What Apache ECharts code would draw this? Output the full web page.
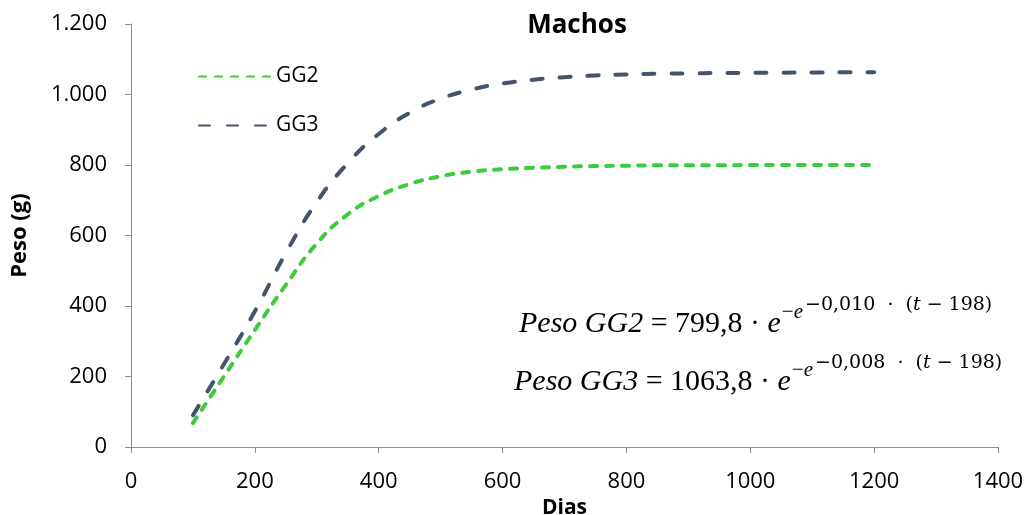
<!DOCTYPE html>
<html>
<head>
<meta charset="utf-8">
<script src="https://cdn.jsdelivr.net/npm/echarts@6/dist/echarts.min.js"></script>
<style>
html,body{margin:0;padding:0;background:#fff;overflow:hidden;}
#chart{width:1027px;height:515px;}
</style>
</head>
<body>
<div id="chart"></div>
<script>
// ---- data ----
const days = [100,150,200,250,300,350,400,450,500,550,600,650,700,750,800,850,900,950,1000,1050,1100,1150,1200];
const gg2 = [68,200,332,460,577,660,712,746,768,781,788,792,795,797,798,799,799,799.5,799.7,799.8,799.8,799.8,799.8];
const gg3 = [90,235,385,550,695,805,888,948,988,1014,1031,1042,1049,1054,1057,1059,1060,1061,1061.5,1062,1062.5,1063,1063];
const seriesNames = ['GG2','GG3'];
const titleText = 'Machos';
const xName = 'Dias';
const yName = 'Peso (g)';
const eq1 = {main:['Peso GG2', ' = 799,8 · ', 'e'], sup2:['−0,010  ·  (', 't', ' − 198)']};
const eq2 = {main:['Peso GG3', ' = 1063,8 · ', 'e'], sup2:['−0,008  ·  (', 't', ' − 198)']};

const chart = echarts.init(document.getElementById('chart'), null, {width:1027, height:515});
const sans = 'Open Sans';
const serif = 'Liberation Serif';
const serif2 = 'DejaVu Serif';

const cv = document.createElement('canvas').getContext('2d');
function tw(t, font){ cv.font = font; return cv.measureText(t).width; }

const mainSize = 30, sup1Size = 21, sup2Size = 19;
function eqGraphics(eq, x0, yMid){
  const fI = 'italic ' + mainSize + 'px "' + serif + '"';
  const fN = mainSize + 'px "' + serif + '"';
  const w = tw(eq.main[0], fI) + tw(eq.main[1], fN) + tw(eq.main[2], fI);
  const x1 = x0 + w + 1;
  const s1w = tw('−', sup1Size + 'px "' + serif + '"') + tw('e', 'italic ' + sup1Size + 'px "' + serif + '"');
  const x2 = x1 + s1w + 2;
  return [
    {type:'text', left:x0, top:yMid - mainSize*0.62, silent:true,
      style:{text:'{i|'+eq.main[0]+'}{n|'+eq.main[1]+'}{i|'+eq.main[2]+'}',
        rich:{i:{fontFamily:serif, fontStyle:'italic', fontSize:mainSize, fill:'#000'},
              n:{fontFamily:serif, fontSize:mainSize, fill:'#000'}}}},
    {type:'text', left:x1, top:yMid - 13 - sup1Size*0.62, silent:true,
      style:{text:'{n|−}{i|e}',
        rich:{i:{fontFamily:serif, fontStyle:'italic', fontSize:sup1Size, fill:'#000'},
              n:{fontFamily:serif, fontSize:sup1Size, fill:'#000'}}}},
    {type:'text', left:x2, top:yMid - 21 - sup2Size*0.62, silent:true,
      style:{text:'{n|' + eq.sup2[0] + '}{i|' + eq.sup2[1] + '}{n|' + eq.sup2[2] + '}',
        rich:{i:{fontFamily:serif2, fontStyle:'italic', fontSize:sup2Size, fill:'#000'},
              n:{fontFamily:serif2, fontSize:sup2Size, fill:'#000'}}}}
  ];
}

const green = '#3BCB3B';
const slate = '#44546A';
const axisGray = '#8C8C8C';

const option = {
  animation:false,
  backgroundColor:'#fff',
  title:{text:titleText, left:572, top:8, textAlign:'center',
    textStyle:{fontFamily:sans, fontWeight:'bold', fontSize:26, color:'#000'}},
  legend:{
    left:193, top:61, orient:'vertical', itemWidth:72, itemHeight:14, itemGap:28,
    data:seriesNames,
    itemStyle:{opacity:0},
    textStyle:{fontFamily:sans, fontSize:21, color:'#000', lineHeight:20}
  },
  grid:{left:131, right:29, top:24, bottom:68, containLabel:false, outerBoundsMode:'none'},
  xAxis:{
    type:'value', min:0, max:1400, interval:200,
    name:xName, nameLocation:'middle', nameGap:49,
    nameTextStyle:{fontFamily:sans, fontWeight:'bold', fontSize:21, color:'#000'},
    axisLine:{show:true, onZero:false, lineStyle:{color:axisGray, width:1}},
    axisTick:{show:true, inside:false, length:6, lineStyle:{color:axisGray}},
    splitLine:{show:false},
    axisLabel:{fontFamily:sans, fontSize:22, color:'#000', margin:24,
      formatter:function(v){ return String(v); }}
  },
  yAxis:{
    type:'value', min:0, max:1200, interval:200,
    name:yName, nameLocation:'middle', nameGap:100, nameRotate:90,
    nameTextStyle:{fontFamily:sans, fontWeight:'bold', fontSize:22, color:'#000'},
    axisLine:{show:true, lineStyle:{color:axisGray, width:1}},
    axisTick:{show:true, inside:false, length:6, lineStyle:{color:axisGray}},
    splitLine:{show:false},
    axisLabel:{fontFamily:sans, fontSize:22, color:'#000', margin:24,
      formatter:function(v){ return String(v).replace(/\B(?=(\d{3})+(?!\d))/g, '.'); }}
  },
  series:[
    {name:seriesNames[0], type:'line', smooth:true, symbol:'none',
      data:days.map((d,i)=>[d, gg2[i]]),
      lineStyle:{color:green, width:4, type:[7,9], cap:'round'},
      itemStyle:{color:green}},
    {name:seriesNames[1], type:'line', smooth:true, symbol:'none',
      data:days.map((d,i)=>[d, gg3[i]]),
      lineStyle:{color:slate, width:4, type:[11,17], cap:'round'},
      itemStyle:{color:slate}}
  ],
  graphic: eqGraphics(eq1, 519, 328).concat(eqGraphics(eq2, 514, 386))
};
chart.setOption(option);
</script>
</body>
</html>
